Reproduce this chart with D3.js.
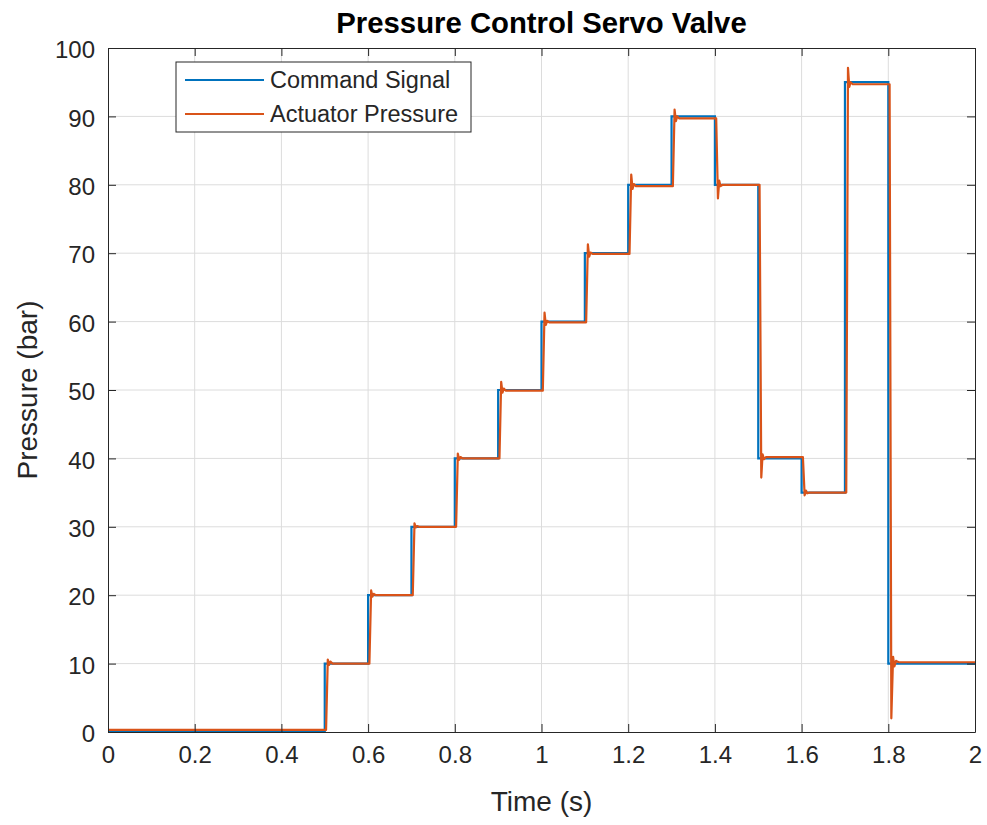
<!DOCTYPE html>
<html>
<head>
<meta charset="utf-8">
<script src="https://cdn.jsdelivr.net/npm/d3@7"></script>
<style>
  body { margin: 0; background: #fff; }
  svg { display: block; font-family: "Liberation Sans", Arial, sans-serif; }
</style>
</head>
<body>
<div id="chart"></div>
<script>
// ---- data ----
const cmdTime  = [0, 0.5, 0.6, 0.7, 0.8, 0.9, 1.0, 1.1, 1.2, 1.3, 1.4, 1.5, 1.6, 1.7, 1.8, 2.0];
const cmdValue = [0, 10, 20, 30, 40, 50, 60, 70, 80, 90, 80, 40, 35, 95, 10, 10];

const actTime = [
  0,
  0.503, 0.507, 0.510, 0.513, 0.518,
  0.603, 0.607, 0.610, 0.613, 0.618,
  0.703, 0.707, 0.710, 0.713, 0.718,
  0.803, 0.807, 0.810, 0.813, 0.818,
  0.903, 0.907, 0.910, 0.913, 0.918,
  1.003, 1.007, 1.010, 1.013, 1.018,
  1.103, 1.107, 1.110, 1.113, 1.118,
  1.203, 1.207, 1.210, 1.213, 1.218,
  1.303, 1.307, 1.310, 1.313, 1.318,
  1.403, 1.407, 1.410, 1.413, 1.418,
  1.503, 1.507, 1.510, 1.513, 1.518,
  1.603, 1.607, 1.610, 1.613, 1.618,
  1.703, 1.707, 1.710, 1.713, 1.718,
  1.803, 1.807, 1.811, 1.814, 1.818, 1.824,
  2.0
];
const actValue = [
  0.3,
  0.3, 10.6, 9.8, 10.3, 10.0,
  10.0, 20.7, 19.8, 20.2, 20.0,
  20.0, 30.5, 29.9, 30.1, 30.0,
  30.0, 40.7, 39.8, 40.2, 40.0,
  40.0, 51.2, 49.6, 50.2, 49.9,
  49.9, 61.3, 59.5, 60.1, 59.9,
  59.9, 71.3, 69.5, 70.1, 69.9,
  69.9, 81.5, 79.4, 80.1, 79.8,
  79.8, 91.0, 89.3, 90.0, 89.7,
  89.7, 78.0, 80.6, 79.8, 80.0,
  80.0, 37.2, 40.6, 39.9, 40.2,
  40.2, 34.6, 35.3, 34.9, 35.0,
  35.0, 97.1, 94.3, 95.0, 94.7,
  94.7, 2.0, 11.0, 9.6, 10.4, 10.2,
  10.2
];

const xTicks = [0, 0.2, 0.4, 0.6, 0.8, 1, 1.2, 1.4, 1.6, 1.8, 2];
const yTicks = [0, 10, 20, 30, 40, 50, 60, 70, 80, 90, 100];
const seriesNames = ["Command Signal", "Actuator Pressure"];
const seriesColors = ["#0072BD", "#D95319"];

// ---- layout ----
const W = 987, H = 825;
const m = { left: 108, right: 12, top: 48, bottom: 93 };
const iw = W - m.left - m.right, ih = H - m.top - m.bottom;

const svg = d3.select("#chart").append("svg").attr("width", W).attr("height", H);
const g = svg.append("g").attr("transform", `translate(${m.left},${m.top})`);

const x = d3.scaleLinear().domain([0, 2]).range([0, iw]);
const y = d3.scaleLinear().domain([0, 100]).range([ih, 0]);

// grid
g.append("g").selectAll("line").data(xTicks.slice(1, -1)).join("line")
  .attr("x1", d => x(d)).attr("x2", d => x(d)).attr("y1", 0).attr("y2", ih)
  .attr("stroke", "#dcdcdc").attr("stroke-width", 1);
g.append("g").selectAll("line").data(yTicks.slice(1, -1)).join("line")
  .attr("y1", d => y(d)).attr("y2", d => y(d)).attr("x1", 0).attr("x2", iw)
  .attr("stroke", "#dcdcdc").attr("stroke-width", 1);

// series
const cmd = cmdTime.map((t, i) => [t, cmdValue[i]]);
const act = actTime.map((t, i) => [t, actValue[i]]);

g.append("path").datum(cmd)
  .attr("d", d3.line().x(d => x(d[0])).y(d => y(d[1])).curve(d3.curveStepAfter))
  .attr("fill", "none").attr("stroke", seriesColors[0]).attr("stroke-width", 2.2);

g.append("path").datum(act)
  .attr("d", d3.line().x(d => x(d[0])).y(d => y(d[1])))
  .attr("fill", "none").attr("stroke", seriesColors[1]).attr("stroke-width", 2.2)
  .attr("stroke-linejoin", "round");

// axes (ticks inward, box on all sides)
const tickLen = 8;
const axisColor = "#262626";
function styleAxis(sel) {
  sel.select(".domain").attr("stroke", axisColor);
  sel.selectAll(".tick line").attr("stroke", axisColor);
  sel.selectAll(".tick text").attr("fill", axisColor).style("font-size", "24px");
}
const xAxis = g.append("g").attr("transform", `translate(0,${ih})`)
  .call(d3.axisBottom(x).tickValues(xTicks).tickFormat(d3.format("~g")).tickSizeInner(-tickLen).tickSizeOuter(0).tickPadding(14))
  .call(styleAxis);
xAxis.selectAll(".tick text").attr("dy", "0.72em");
const yAxis = g.append("g")
  .call(d3.axisLeft(y).tickValues(yTicks).tickSizeInner(-tickLen).tickSizeOuter(0).tickPadding(13))
  .call(styleAxis);
yAxis.selectAll(".tick text").attr("dy", "0.4em");
g.append("g")
  .call(d3.axisTop(x).tickValues(xTicks).tickFormat("").tickSizeInner(-tickLen).tickSizeOuter(0))
  .call(styleAxis);
g.append("g").attr("transform", `translate(${iw},0)`)
  .call(d3.axisRight(y).tickValues(yTicks).tickFormat("").tickSizeInner(-tickLen).tickSizeOuter(0))
  .call(styleAxis);

// labels
svg.append("text").attr("x", m.left + iw / 2).attr("y", 33)
  .attr("text-anchor", "middle").attr("font-weight", "bold").attr("font-size", 29.3)
  .attr("fill", "#000").text("Pressure Control Servo Valve");
svg.append("text").attr("x", m.left + iw / 2).attr("y", 811)
  .attr("text-anchor", "middle").attr("font-size", 28).attr("fill", axisColor).text("Time (s)");
svg.append("text").attr("transform", `translate(37,${m.top + ih / 2}) rotate(-90)`)
  .attr("text-anchor", "middle").attr("font-size", 28).attr("fill", axisColor).text("Pressure (bar)");

// legend
const lg = svg.append("g").attr("transform", "translate(176,62)");
lg.append("rect").attr("width", 295).attr("height", 70)
  .attr("fill", "#fff").attr("stroke", axisColor).attr("stroke-width", 1);
seriesNames.forEach((name, i) => {
  const yy = 18 + i * 34;
  lg.append("line").attr("x1", 9).attr("x2", 88).attr("y1", yy).attr("y2", yy)
    .attr("stroke", seriesColors[i]).attr("stroke-width", 2);
  lg.append("text").attr("x", 94).attr("y", yy + 8).attr("font-size", 23.5)
    .attr("fill", axisColor).text(name);
});
</script>
</body>
</html>
